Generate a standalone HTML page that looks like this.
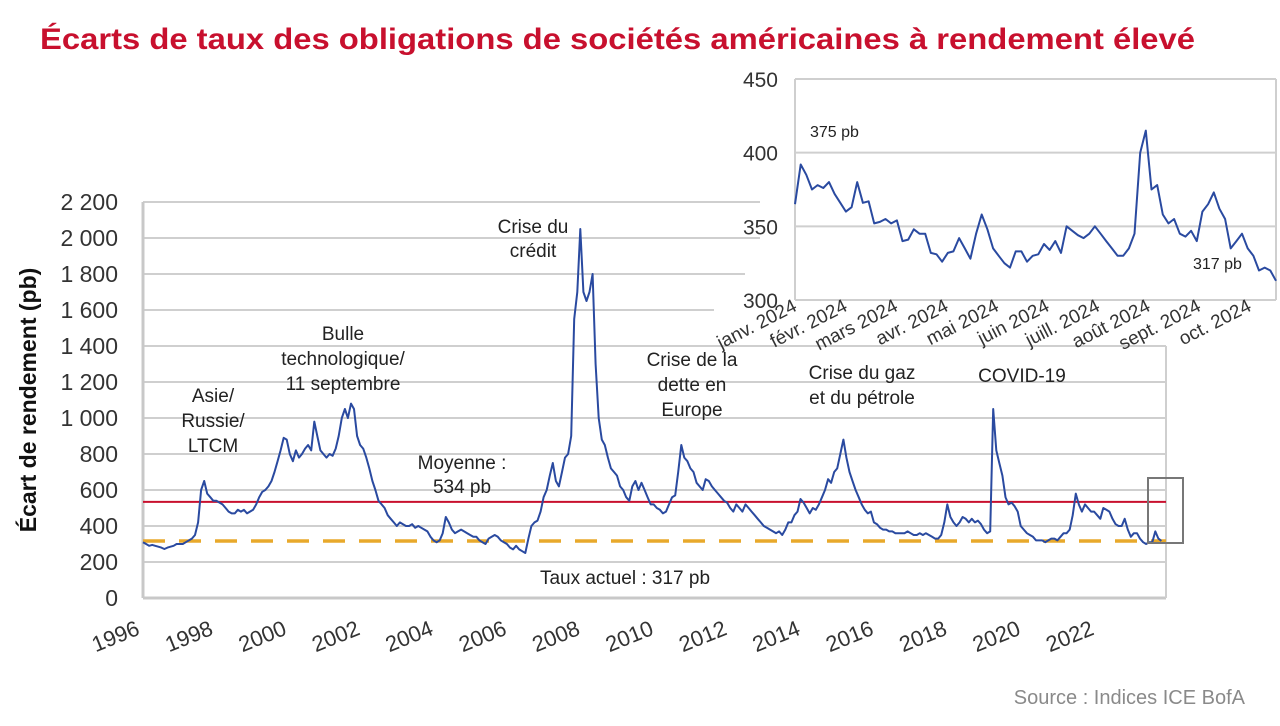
<!DOCTYPE html>
<html><head><meta charset="utf-8"><style>
body{margin:0;background:#fff;width:1280px;height:721px;overflow:hidden;font-family:"Liberation Sans",sans-serif}
svg text{font-family:"Liberation Sans",sans-serif}
</style></head><body>
<svg id="c" width="1280" height="721" xmlns="http://www.w3.org/2000/svg">
<text x="40" y="49" font-size="30" font-weight="bold" fill="#c8102e" textLength="1155" lengthAdjust="spacingAndGlyphs">Écarts de taux des obligations de sociétés américaines à rendement élevé</text>
<text x="1245" y="704" font-size="20" fill="#8a8a8a" text-anchor="end">Source : Indices ICE BofA</text>
</svg>
<script>
const mainStartYear = 1997;
const mainValues = [
310,300,290,295,290,285,280,272,280,285,290,300,
300,300,310,320,330,350,420,600,650,580,560,540,
540,530,520,500,480,470,470,490,480,490,470,480,
490,520,560,590,600,620,650,700,760,820,890,880,
800,760,820,780,800,830,850,820,980,900,820,800,
780,800,790,830,900,1000,1050,1000,1080,1050,900,850,
830,780,720,650,600,540,520,500,460,440,420,400,
420,410,400,400,410,390,400,390,380,370,340,320,
310,320,360,450,420,380,360,370,380,370,360,350,
340,340,320,310,300,330,340,350,340,320,310,300,
280,270,290,270,260,250,330,400,420,430,480,560,
600,680,750,650,620,700,780,800,900,1550,1700,2050,
1700,1650,1700,1800,1300,1000,880,850,780,720,700,680,
620,600,560,540,620,650,600,640,600,560,520,520,
500,490,470,480,520,560,570,700,850,780,760,720,
700,640,620,600,660,650,620,600,580,560,540,530,
500,480,520,500,480,520,500,480,460,440,420,400,
390,380,370,360,370,350,380,420,420,460,480,550,
530,500,470,500,490,520,560,600,660,640,700,720,
800,880,780,700,650,600,560,520,490,470,480,420,
410,390,380,380,370,370,360,360,360,360,370,360,
350,350,360,350,360,350,340,330,330,350,420,520,
450,420,400,420,450,440,420,440,420,430,410,380,
360,370,1050,820,750,680,560,520,530,510,480,400,
380,360,350,340,320,320,320,310,320,330,330,320,
340,360,360,380,460,580,520,480,520,500,480,480,
460,440,500,490,480,440,410,400,400,440,380,340,
360,360,330,310,300,310,310,370,330,317];
const yTicks = [0,200,400,600,800,1000,1200,1400,1600,1800,2000,2200];
const yTickLabels = ["0","200","400","600","800","1 000","1 200","1 400","1 600","1 800","2 000","2 200"];
const xTickYears = [1996,1998,2000,2002,2004,2006,2008,2010,2012,2014,2016,2018,2020,2022];
const averageValue = 534;
const currentValue = 317;
const insetValues = [365,392,385,375,378,376,380,372,366,360,363,380,366,367,352,353,355,352,354,340,341,348,345,345,332,331,326,332,333,342,335,328,345,358,348,335,330,325,322,333,333,326,330,331,338,334,340,332,350,347,344,342,345,350,345,340,335,330,330,335,345,400,415,375,378,358,352,355,345,343,347,340,360,365,373,362,355,335,340,345,335,330,320,322,320,313];
const insetTicks = [300,350,400,450];
const insetMonths = ["janv. 2024","févr. 2024","mars 2024","avr. 2024","mai 2024","juin 2024","juill. 2024","août 2024","sept. 2024","oct. 2024"];

const svg=document.getElementById('c');
const NS='http://www.w3.org/2000/svg';
function mk(tag,attrs,parent){const e=document.createElementNS(NS,tag);for(const k in attrs)e.setAttribute(k,attrs[k]);(parent||svg).appendChild(e);return e;}
const X0=143,X1=1166,PXY=36.7;
const xs=t=>X0+(t-mainStartYear)*PXY;
const ys=v=>598-v*0.18;
function gridEnd(y){ if(y<320){ if(y<250) return 760; if(y<290) return 745; return 714;} return X1; }
yTicks.forEach((v,i)=>{
  const l=mk('line',{x1:X0,x2:gridEnd(ys(v)),y1:ys(v),y2:ys(v),stroke:v===0?'#c8c8c8':'#cfcfcf','stroke-width':v===0?3:2});
  
  
  const t=mk('text',{x:118,y:ys(v)+8,'font-size':23,fill:'#333','text-anchor':'end'});
  t.textContent=yTickLabels[i];
  
  
});
const ax=mk('line',{x1:X0,x2:X0,y1:ys(0),y2:ys(2200),stroke:'#c8c8c8','stroke-width':3});

const rx=mk('line',{x1:X1,x2:X1,y1:ys(0),y2:ys(1400),stroke:'#cfcfcf','stroke-width':2});

xTickYears.forEach((yr,i)=>{
  const x=X0+i*73.4-2, y=634;
  const t=mk('text',{x:x,y:y,'font-size':22,fill:'#333','text-anchor':'end',transform:`rotate(-22 ${x} ${y})`});
  t.textContent=yr;
  
  
});
const yt=mk('text',{x:36,y:400,'font-size':23,'font-weight':'bold',fill:'#111','text-anchor':'middle',transform:'rotate(-90 36 400)'});
yt.textContent='Écart de rendement (pb)';

const av=mk('line',{x1:X0,x2:X1,y1:ys(averageValue),y2:ys(averageValue),stroke:'#c8102e','stroke-width':2});

const cu=mk('line',{x1:X0,x2:X1,y1:ys(currentValue),y2:ys(currentValue),stroke:'#e8a92b','stroke-width':3.5,'stroke-dasharray':'22 14'});

let d='';mainValues.forEach((v,i)=>{d+=(i?'L':'M')+xs(mainStartYear+i/12).toFixed(1)+' '+ys(v).toFixed(1);});
const p=mk('path',{d:d,fill:'none',stroke:'#2a4aa0','stroke-width':2,'stroke-linejoin':'round'});

const zb=mk('rect',{x:1148,y:478,width:35,height:65,fill:'none',stroke:'#777','stroke-width':2});

function ann(lines,cx,y0,lh,name){lines.forEach((s,i)=>{const t=mk('text',{x:cx,y:y0+i*lh,'font-size':19,fill:'#222','text-anchor':'middle'});t.textContent=s;});}
ann(['Asie/','Russie/','LTCM'],213,402,25,'annotation-asia-russia');
ann(['Bulle','technologique/','11 septembre'],343,340,25,'annotation-tech-bubble');
ann(['Moyenne :','534 pb'],462,469,24,'annotation-average');
ann(['Crise du','crédit'],533,233,24,'annotation-credit-crisis');
ann(['Crise de la','dette en','Europe'],692,366,25,'annotation-euro-debt');
ann(['Crise du gaz','et du pétrole'],862,379,25,'annotation-oil-gas');
ann(['COVID-19'],1022,382,25,'annotation-covid');
ann(['Taux actuel : 317 pb'],625,584,25,'annotation-current-rate');
const IX0=795,IX1=1276;
const iy=v=>300-(v-300)*(221/150);
insetTicks.forEach(v=>{
  const l=mk('line',{x1:IX0,x2:IX1,y1:iy(v),y2:iy(v),stroke:'#cfcfcf','stroke-width':2});
  
  const t=mk('text',{x:778,y:iy(v)+8,'font-size':21,fill:'#333','text-anchor':'end'});t.textContent=v;
  
});
const il=mk('line',{x1:IX0,x2:IX0,y1:iy(300),y2:iy(450),stroke:'#cfcfcf','stroke-width':2});

const ir=mk('line',{x1:IX1,x2:IX1,y1:iy(300),y2:iy(450),stroke:'#cfcfcf','stroke-width':2});

insetMonths.forEach((m,i)=>{
  const x=IX0+3+i*50.5,y=310;
  const t=mk('text',{x:x,y:y,'font-size':19,fill:'#333','text-anchor':'end',transform:`rotate(-27 ${x} ${y})`});t.textContent=m;
  
});
let d2='';const n=insetValues.length;insetValues.forEach((v,i)=>{d2+=(i?'L':'M')+(IX0+i*(IX1-IX0)/(n-1)).toFixed(1)+' '+iy(v).toFixed(1);});
const p2=mk('path',{d:d2,fill:'none',stroke:'#2a4aa0','stroke-width':2,'stroke-linejoin':'round'});

const a1=mk('text',{x:810,y:137,'font-size':16,fill:'#222'});a1.textContent='375 pb';

const a2=mk('text',{x:1193,y:269,'font-size':16,fill:'#222'});a2.textContent='317 pb';

</script>
</body></html>
